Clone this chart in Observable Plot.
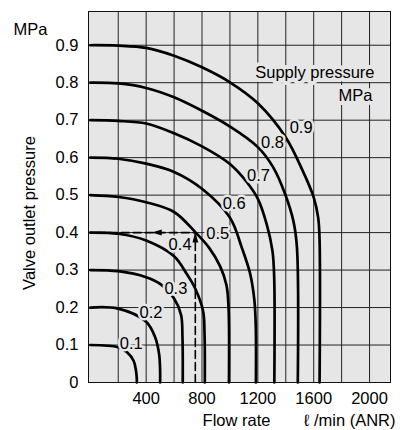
<!DOCTYPE html>
<html>
<head>
<meta charset="utf-8">
<script src="https://cdn.jsdelivr.net/npm/d3@7"></script>
<script src="https://cdn.jsdelivr.net/npm/@observablehq/plot@0.6"></script>
<style>
  html, body { margin: 0; padding: 0; background: #fff; }
  #chart svg { display: block; }
</style>
</head>
<body>
<div id="chart"></div>
<script>
// ---- data ----
const supplyPressures = [0.1, 0.2, 0.3, 0.4, 0.5, 0.6, 0.7, 0.8, 0.9];

// flow (l/min ANR) and outlet pressure (MPa) along each curve, top to bottom
const flow01   = [0, 200, 265, 310, 327, 333, 333];
const outlet01 = [0.1, 0.094, 0.08, 0.058, 0.032, 0.01, 0];
const flow02   = [0, 200, 400, 465, 493, 500, 500];
const outlet02 = [0.2, 0.197, 0.162, 0.12, 0.075, 0.03, 0];
const flow03   = [0, 200, 400, 500, 600, 650, 660, 662];
const outlet03 = [0.3, 0.297, 0.281, 0.263, 0.224, 0.18, 0.12, 0];
const flow04   = [0, 200, 400, 600, 690, 752, 808, 818, 820];
const outlet04 = [0.4, 0.397, 0.379, 0.337, 0.29, 0.25, 0.19, 0.13, 0];
const flow05   = [0, 200, 400, 600, 755, 850, 930, 975, 990, 993];
const outlet05 = [0.5, 0.495, 0.481, 0.455, 0.4, 0.36, 0.31, 0.26, 0.2, 0];
const flow06   = [0, 200, 400, 600, 800, 1000, 1085, 1145, 1175, 1185, 1186];
const outlet06 = [0.6, 0.597, 0.584, 0.562, 0.517, 0.44, 0.36, 0.29, 0.22, 0.15, 0];
const flow07   = [0, 200, 400, 600, 800, 1000, 1120, 1200, 1265, 1305, 1317, 1318];
const outlet07 = [0.7, 0.698, 0.691, 0.665, 0.63, 0.583, 0.535, 0.49, 0.42, 0.35, 0.28, 0];
const flow08   = [0, 200, 400, 600, 800, 1000, 1200, 1310, 1395, 1455, 1480, 1486];
const outlet08 = [0.8, 0.798, 0.786, 0.761, 0.725, 0.683, 0.628, 0.574, 0.503, 0.43, 0.36, 0];
const flow09   = [0, 200, 400, 600, 800, 1000, 1200, 1400, 1510, 1600, 1632, 1642, 1642];
const outlet09 = [0.9, 0.899, 0.893, 0.872, 0.841, 0.801, 0.745, 0.654, 0.574, 0.494, 0.44, 0.38, 0];

// curve label positions (flow, outlet pressure)
const labelFlow   = [293, 435, 613, 643, 913, 1030, 1205, 1305, 1510];
const labelOutlet = [0.103, 0.187, 0.251, 0.368, 0.398, 0.478, 0.551, 0.64, 0.68];

// worked example (dashed arrows)
const exampleFlow = 752;
const exampleOutlet = 0.4;
const exampleHeadFlow = 440;

// axes
const xTicks = [400, 800, 1200, 1600, 2000];
const xGrid = [200, 400, 600, 800, 1000, 1200, 1400, 1600, 1800, 2000];
const yTicks = [0, 0.1, 0.2, 0.3, 0.4, 0.5, 0.6, 0.7, 0.8, 0.9];
const yGrid = [0.1, 0.2, 0.3, 0.4, 0.5, 0.6, 0.7, 0.8, 0.9];

// ---- build tables ----
const flows = [flow01, flow02, flow03, flow04, flow05, flow06, flow07, flow08, flow09];
const outlets = [outlet01, outlet02, outlet03, outlet04, outlet05, outlet06, outlet07, outlet08, outlet09];
const curveRows = [];
supplyPressures.forEach((s, i) => {
  flows[i].forEach((q, j) => curveRows.push({s, q, p: outlets[i][j]}));
});
const labelRows = supplyPressures.map((s, i) => ({t: s.toFixed(1), q: labelFlow[i], p: labelOutlet[i]}));
const examplePath = [
  {q: exampleFlow, p: 0},
  {q: exampleFlow, p: exampleOutlet},
  {q: 0, p: exampleOutlet}
];

const BG = "#e6e6e6";
const arrowUp = {draw(ctx) { ctx.moveTo(0, 0); ctx.lineTo(-3, 10); ctx.lineTo(3, 10); ctx.closePath(); }};
const arrowLeft = {draw(ctx) { ctx.moveTo(0, 0); ctx.lineTo(10, -3); ctx.lineTo(10, 3); ctx.closePath(); }};
const txt = {fill: "#000", lineAnchor: "middle", textAnchor: "middle"};

const chart = Plot.plot({
  width: 407,
  height: 430,
  marginLeft: 88,
  marginRight: 17,
  marginTop: 11,
  marginBottom: 48,
  style: {fontFamily: "'Liberation Sans', Arial, Helvetica, sans-serif", fontSize: "16.5px", background: "#fff", color: "#000"},
  x: {domain: [-13, 2150], ticks: xTicks, tickSize: 0, tickPadding: 10, label: null, tickFormat: d => String(d)},
  y: {domain: [0, 0.99], ticks: yTicks, tickSize: 0, tickPadding: 10, label: null, tickFormat: d => d === 0 ? "0" : d.toFixed(1)},
  marks: [
    Plot.frame({fill: BG}),
    Plot.ruleX(xGrid, {stroke: "#222", strokeWidth: 1}),
    Plot.ruleY(yGrid, {stroke: "#222", strokeWidth: 1}),
    Plot.frame({stroke: "#111", strokeWidth: 1}),
    Plot.line(examplePath, {x: "q", y: "p", stroke: "#000", strokeWidth: 1.6, strokeDasharray: "8,4"}),
    Plot.line(curveRows, {x: "q", y: "p", z: "s", curve: "catmull-rom", stroke: "#000", strokeWidth: 2.7}),
    Plot.dot([{q: exampleFlow, p: exampleOutlet}], {x: "q", y: "p", symbol: arrowUp, fill: "#000", stroke: "none", r: 4}),
    Plot.dot([{q: exampleHeadFlow, p: exampleOutlet}], {x: "q", y: "p", symbol: arrowLeft, fill: "#000", stroke: "none", r: 4}),
    Plot.text(labelRows, {x: "q", y: "p", text: "t", fill: "#000", stroke: BG, strokeWidth: 5, paintOrder: "stroke"}),
    Plot.text(["Supply pressure"], {...txt, frameAnchor: "top-right", text: d => d, dx: -16, dy: 61, textAnchor: "end", stroke: BG, strokeWidth: 8, paintOrder: "stroke"}),
    Plot.text(["MPa"], {...txt, frameAnchor: "top-right", text: d => d, dx: -18, dy: 84, textAnchor: "end", stroke: BG, strokeWidth: 8, paintOrder: "stroke"}),
    Plot.text(["MPa"], {...txt, frameAnchor: "top-left", text: d => d, dx: -58, dy: 18}),
    Plot.text(["Valve outlet pressure"], {...txt, frameAnchor: "left", text: d => d, dx: -59, dy: 16, rotate: -90}),
    Plot.text(["Flow rate"], {...txt, frameAnchor: "bottom-left", text: d => d, dx: 148, dy: 38}),
    Plot.text(["\u2113 /min (ANR)"], {...txt, frameAnchor: "bottom-right", text: d => d, dx: 5, dy: 38, textAnchor: "end"})
  ]
});
document.getElementById("chart").appendChild(chart);
</script>
</body>
</html>
